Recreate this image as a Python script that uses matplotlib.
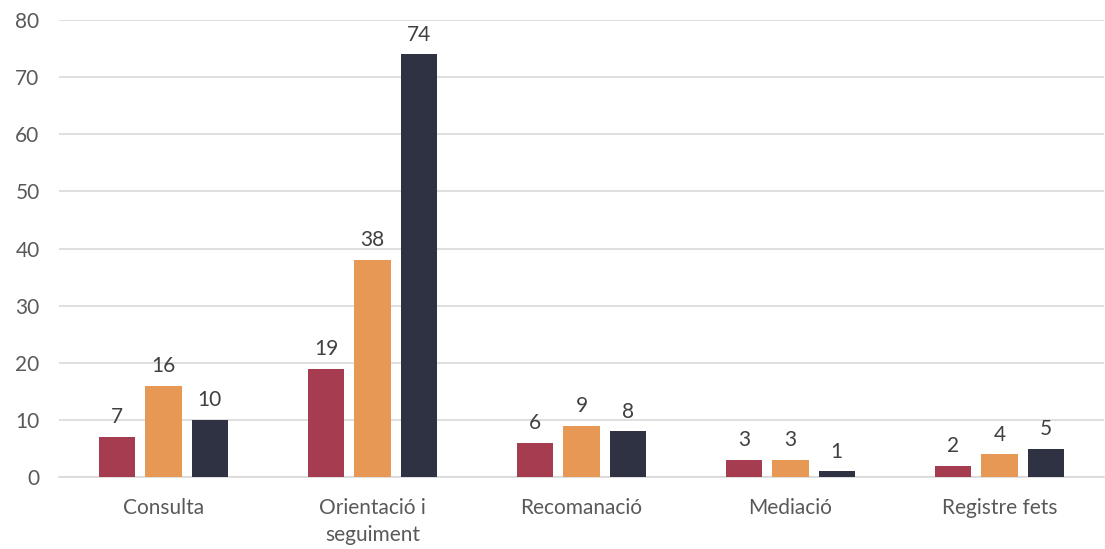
import matplotlib.pyplot as plt
import numpy as np

plt.rcParams['font.family'] = ['Lato', 'DejaVu Sans']

# Data for the chart
categories = ['Consulta', 'Orientació i\nseguiment', 'Recomanació', 'Mediació', 'Registre fets']
serie1 = [7, 19, 6, 3, 2]
serie2 = [16, 38, 9, 3, 4]
serie3 = [10, 74, 8, 1, 5]
colors = ['#A53C50', '#E89855', '#2F3242']

fig = plt.figure(figsize=(11.05, 5.49), dpi=100)
ax = fig.add_axes([0.0534, 0.131, 0.9456, 0.8326])

index = np.arange(len(categories))
bar_width = 0.174
step = 0.222

for k, (vals, col) in enumerate(zip([serie1, serie2, serie3], colors)):
    bars = ax.bar(index + (k - 1) * step, vals, bar_width, color=col, zorder=3)
    for b, v in zip(bars, vals):
        ax.annotate(str(v), (b.get_x() + b.get_width() / 2, v), xytext=(0, 7),
                    textcoords='offset points', ha='center', va='bottom',
                    fontsize=15, color='#404040')

# Axes styling
ax.set_xlim(-0.5, 4.5)
ax.set_ylim(0, 80)
ax.set_yticks(range(0, 81, 10))
ax.set_xticks(index)
ax.set_xticklabels(categories, linespacing=1.45)
ax.yaxis.grid(True, color='#D9D9D9', linewidth=1.2, zorder=0)
for s in ['top', 'right', 'left']:
    ax.spines[s].set_visible(False)
ax.spines['bottom'].set_color('#D9D9D9')
ax.spines['bottom'].set_linewidth(1.2)
ax.tick_params(axis='both', length=0, labelsize=15, colors='#595959')
ax.tick_params(axis='y', pad=14)
ax.tick_params(axis='x', pad=15)

fig.savefig('out.png', dpi=100)
